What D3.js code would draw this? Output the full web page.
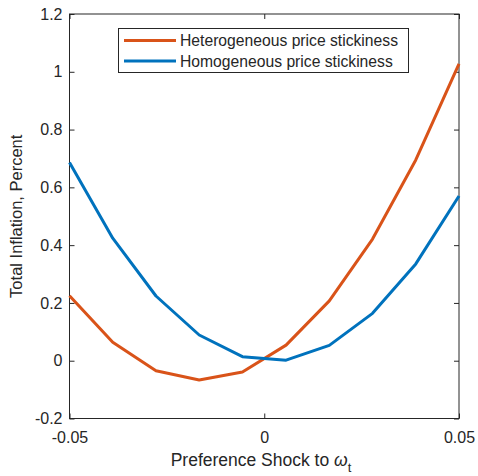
<!DOCTYPE html>
<html>
<head>
<meta charset="utf-8">
<script src="https://cdn.jsdelivr.net/npm/d3@7"></script>
<style>
  body { margin: 0; background: #fff; }
  svg { display: block; font-family: "Liberation Sans", Arial, sans-serif; }
</style>
</head>
<body>
<svg id="chart" width="478" height="476"></svg>
<script>
// Shock grid (10 points from -0.05 to 0.05)
var shocks = [-0.05, -0.0389, -0.0278, -0.0167, -0.0056, 0.0056, 0.0167, 0.0278, 0.0389, 0.05];
var heterogeneous = [0.225, 0.064, -0.035, -0.067, -0.039, 0.054, 0.207, 0.421, 0.695, 1.027];
var homogeneous = [0.686, 0.424, 0.224, 0.089, 0.014, 0.002, 0.053, 0.164, 0.335, 0.570];
var xTicks = [-0.05, 0, 0.05];
var yTicks = [-0.2, 0, 0.2, 0.4, 0.6, 0.8, 1, 1.2];
var seriesNames = ['Heterogeneous price stickiness', 'Homogeneous price stickiness'];
var seriesColors = ['#D95319', '#0072BD'];

var svg = d3.select('#chart');
var margin = { left: 69.5, top: 14, right: 459, bottom: 418.5 };
var AXIS = '#262626';

var x = d3.scaleLinear().domain([-0.05, 0.05]).range([margin.left, margin.right]);
var y = d3.scaleLinear().domain([-0.2, 1.2]).range([margin.bottom, margin.top]);

var fmt = function (d) { return d === 0 ? '0' : String(d); };

// Box (frame)
svg.append('rect')
  .attr('x', margin.left).attr('y', margin.top)
  .attr('width', margin.right - margin.left)
  .attr('height', margin.bottom - margin.top)
  .attr('fill', 'none').attr('stroke', AXIS).attr('stroke-width', 1);

// Axes with inward ticks
var bottomAxis = d3.axisBottom(x).tickValues(xTicks).tickSize(-5).tickPadding(13).tickFormat(fmt);
var topAxis = d3.axisTop(x).tickValues(xTicks).tickSize(-5).tickFormat('');
var leftAxis = d3.axisLeft(y).tickValues(yTicks).tickSize(-5).tickPadding(7).tickFormat(fmt);
var rightAxis = d3.axisRight(y).tickValues(yTicks).tickSize(-5).tickFormat('');

function styleAxis(g) {
  g.attr('font-size', null).attr('font-family', null);
  g.select('.domain').remove();
  g.selectAll('line').attr('stroke', AXIS);
  g.selectAll('text').attr('fill', AXIS).style('font-size', '16px');
}

svg.append('g').attr('transform', 'translate(0,' + margin.bottom + ')').call(bottomAxis).call(styleAxis);
svg.append('g').attr('transform', 'translate(0,' + margin.top + ')').call(topAxis).call(styleAxis);
svg.append('g').attr('transform', 'translate(' + margin.left + ',0)').call(leftAxis).call(styleAxis);
svg.append('g').attr('transform', 'translate(' + margin.right + ',0)').call(rightAxis).call(styleAxis);

// Lines
var line = d3.line()
  .x(function (d, i) { return x(shocks[i]); })
  .y(function (d) { return y(d); });

[heterogeneous, homogeneous].forEach(function (vals, i) {
  svg.append('path')
    .datum(vals)
    .attr('d', line)
    .attr('fill', 'none')
    .attr('stroke', seriesColors[i])
    .attr('stroke-width', 3)
    .attr('stroke-linejoin', 'round');
});

// Axis labels
var xl = svg.append('text')
  .attr('x', 261).attr('y', 466)
  .attr('text-anchor', 'middle').attr('fill', AXIS).style('font-size', '17.5px');
xl.append('tspan').text('Preference Shock to ');
xl.append('tspan').attr('font-style', 'italic').text('\u03C9');
xl.append('tspan').attr('dy', 6).style('font-size', '13px').text('t');

svg.append('text')
  .attr('transform', 'translate(22,' + ((margin.top + margin.bottom) / 2) + ') rotate(-90)')
  .attr('text-anchor', 'middle').attr('fill', AXIS).style('font-size', '16.5px')
  .text('Total Inflation, Percent');

// Legend
var legend = svg.append('g');
legend.append('rect')
  .attr('x', 118.5).attr('y', 28.5).attr('width', 290).attr('height', 44)
  .attr('fill', '#fff').attr('stroke', AXIS).attr('stroke-width', 1);
seriesNames.forEach(function (name, i) {
  var ly = 40.5 + i * 20.5;
  legend.append('line')
    .attr('x1', 124).attr('x2', 176).attr('y1', ly).attr('y2', ly)
    .attr('stroke', seriesColors[i]).attr('stroke-width', 3);
  legend.append('text')
    .attr('x', 180).attr('y', ly + 5.5)
    .attr('fill', AXIS).style('font-size', '15.7px')
    .text(name);
});
</script>
</body>
</html>
